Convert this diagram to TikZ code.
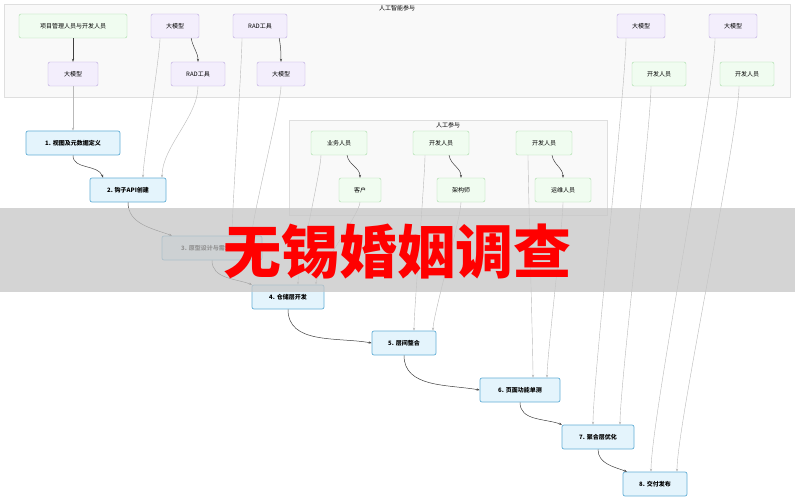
\documentclass[tikz,border=0pt]{standalone}
\usepackage{fontspec}
\setmainfont{Noto Sans CJK SC}
\usetikzlibrary{arrows.meta}
\definecolor{pf}{RGB}{243,238,252}
\definecolor{pd}{RGB}{185,165,222}
\definecolor{gf}{RGB}{240,252,240}
\definecolor{gd}{RGB}{165,220,165}
\definecolor{sf}{RGB}{228,244,252}
\definecolor{sd}{RGB}{100,175,215}
\begin{document}
\begin{tikzpicture}[x=1pt,y=-1pt,font=\fontsize{6}{7}\selectfont,
 box/.style={draw,rounded corners=2pt,minimum height=24pt,inner sep=2pt},
 gn/.style={box,draw=gd,fill=gf},
 pu/.style={box,draw=pd,fill=pf},
 st/.style={box,draw=sd,fill=sf,font=\fontsize{6}{7}\selectfont\bfseries,line width=0.7pt},
 cl/.style={draw=gray!25,fill=gray!5},
 ce/.style={draw=black!75,-{Stealth[length=3pt]},line width=0.5pt},
 pe/.style={draw=gray!55,-{Stealth[length=3pt]},line width=0.4pt}]
\useasboundingbox (0,0) rectangle (795,500);
\fill[white] (0,0) rectangle (795,500);
\draw[cl] (4,4) rectangle (790,97);
\node[font=\fontsize{6}{7}\selectfont] (t1) at (397,8) {人工智能参与};
\draw[cl] (289,120) rectangle (607,215);
\node[font=\fontsize{6}{7}\selectfont] (t2) at (448,125) {人工参与};
% top
\node[gn,minimum width=108pt] (pm) at (73,26) {项目管理人员与开发人员};
\node[pu,minimum width=50pt] (m1) at (73,74) {大模型};
\node[pu,minimum width=48pt] (m2) at (175,26) {大模型};
\node[pu,minimum width=54pt] (r1) at (198,74) {RAD工具};
\node[pu,minimum width=54pt] (r2) at (260,26) {RAD工具};
\node[pu,minimum width=48pt] (m3) at (281,74) {大模型};
\node[pu,minimum width=48pt] (m4) at (641,26) {大模型};
\node[gn,minimum width=54pt] (d1) at (659,74) {开发人员};
\node[pu,minimum width=48pt] (m5) at (733,26) {大模型};
\node[gn,minimum width=54pt] (d2) at (747,74) {开发人员};
% human
\node[gn,minimum width=56pt] (b) at (339,143) {业务人员};
\node[gn,minimum width=42pt] (c) at (360,190) {客户};
\node[gn,minimum width=56pt] (d3) at (441,143) {开发人员};
\node[gn,minimum width=48pt] (a) at (461,190) {架构师};
\node[gn,minimum width=56pt] (d4) at (544,143) {开发人员};
\node[gn,minimum width=56pt] (o) at (563,190) {运维人员};
% steps
\node[st,minimum width=94pt] (s1) at (73,143) {1. 视图及元数据定义};
\node[st,minimum width=76pt] (s2) at (128,190) {2. 钩子API创建};
\node[st,minimum width=100pt] (s3) at (212,248) {3. 原型设计与需求确认};
\node[st,minimum width=72pt] (s4) at (288,297) {4. 仓储层开发};
\node[st,minimum width=64pt] (s5) at (404,343) {5. 层间整合};
\node[st,minimum width=80pt] (s6) at (520,390) {6. 页面功能单测};
\node[st,minimum width=72pt] (s7) at (598,437) {7. 聚合层优化};
\node[st,minimum width=64pt] (s8) at (655,484) {8. 交付发布};
% edges
\draw[ce] (pm) -- (m1);
\draw[ce] (m2.south east) ++(-8,0) to[out=-80,in=90] (r1.north);
\draw[ce] (r2.south east) ++(-8,0) to[out=-80,in=90] (m3.north);
\draw[ce] (b.south) ++(8,0) to[out=-80,in=90] (c.north);
\draw[ce] (d3.south) ++(8,0) to[out=-80,in=90] (a.north);
\draw[ce] (d4.south) ++(8,0) to[out=-80,in=90] (o.north);
\draw[pe] (m1) -- (s1);
\draw[pe] (m2.south) ++(-15,0) to[out=-90,in=90,looseness=0.3] ([xshift=15]s2.north);
\draw[pe] (r1.south) to[out=-90,in=90,looseness=0.8] ([xshift=34]s2.north);
\draw[ce] (s1.south) to[out=-90,in=110] ([xshift=-25]s2.north);
\draw[ce] (s2.south) to[out=-90,in=160] ([xshift=-40]s3.north);
\draw[pe] (r2.south) ++(-18,0) to[out=-90,in=90,looseness=0.3] ([xshift=20]s3.north);
\draw[pe] (m3.south) to[out=-90,in=90,looseness=0.3] ([xshift=40]s3.north);
\draw[ce] (s3.south) to[out=-90,in=160] ([xshift=-36]s4.north);
\draw[pe] (b.south) ++(-18,0) to[out=-90,in=90,looseness=0.3] ([xshift=10]s4.north);
\draw[pe] (c.south) to[out=-90,in=90,looseness=0.3] ([xshift=28]s4.north);
\draw[ce] (s4.south) to[out=-90,in=170] (s5.west);
\draw[pe] (d3.south) ++(-16,0) to[out=-90,in=90,looseness=0.3] ([xshift=10]s5.north);
\draw[pe] (a.south) to[out=-90,in=90,looseness=0.3] ([xshift=29]s5.north);
\draw[ce] (s5.south) to[out=-90,in=170] (s6.west);
\draw[pe] (d4.south) ++(-16,0) to[out=-90,in=90,looseness=0.3] ([xshift=13]s6.north);
\draw[pe] (o.south) to[out=-90,in=90,looseness=0.3] ([xshift=27]s6.north);
\draw[ce] (s6.south) to[out=-90,in=160] ([xshift=-36]s7.north);
\draw[pe] (m4.south) ++(-15,0) to[out=-90,in=90,looseness=0.3] ([xshift=-5]s7.north);
\draw[pe] (d1.south) ++(-8,0) to[out=-90,in=90,looseness=0.3] ([xshift=22]s7.north);
\draw[ce] (s7.south) to[out=-90,in=160] ([xshift=-28]s8.north);
\draw[pe] (m5.south) ++(-18,0) to[out=-90,in=90,looseness=0.3] ([xshift=-4]s8.north);
\draw[pe] (d2.south) ++(-8,0) to[out=-90,in=90,looseness=0.3] ([xshift=22]s8.north);
% watermark
\fill[gray!45,opacity=0.75] (0,208) rectangle (795,292);
\node[text=red,font=\fontsize{58}{58}\selectfont\bfseries] (wm) at (397,252) {无锡婚姻调查};
\end{tikzpicture}
\end{document}
